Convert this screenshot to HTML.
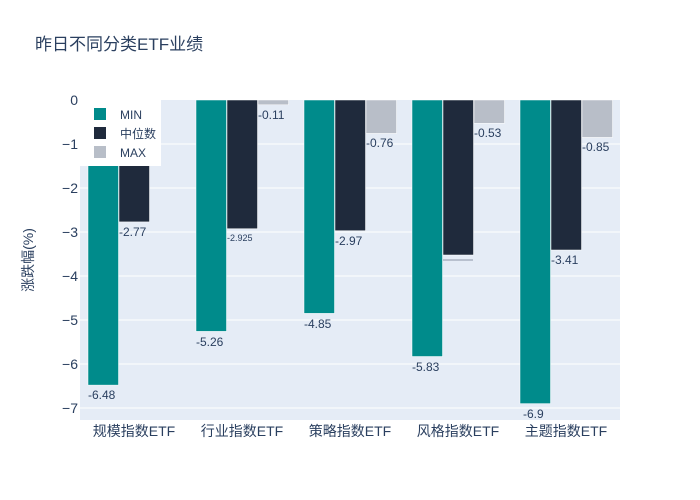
<!DOCTYPE html>
<html><head><meta charset="utf-8"><style>
body{margin:0;background:#fff}
svg{font-family:"Liberation Sans","Noto Sans CJK SC",sans-serif;display:block}
</style></head><body>
<svg width="700" height="500" xmlns="http://www.w3.org/2000/svg">
<rect width="700" height="500" fill="#fff"/>
<text x="35" y="50" font-size="17" fill="#2a3f5f">昨日不同分类ETF业绩</text>
<rect x="80" y="100" width="540" height="320" fill="#e5ecf6"/>
<g stroke="#fff" stroke-width="1">
<line x1="80" x2="620" y1="144" y2="144"/><line x1="80" x2="620" y1="188" y2="188"/>
<line x1="80" x2="620" y1="232" y2="232"/><line x1="80" x2="620" y1="276" y2="276"/>
<line x1="80" x2="620" y1="320" y2="320"/><line x1="80" x2="620" y1="364" y2="364"/>
<line x1="80" x2="620" y1="408" y2="408"/>
</g>
<g font-size="14" fill="#2a3f5f" text-anchor="end">
<text x="78" y="105">0</text><text x="78" y="149">−1</text><text x="78" y="193">−2</text>
<text x="78" y="237">−3</text><text x="78" y="281">−4</text><text x="78" y="325">−5</text>
<text x="78" y="369">−6</text><text x="78" y="413">−7</text>
</g>
<text transform="translate(33,260) rotate(-90)" font-size="14" fill="#2a3f5f" text-anchor="middle">涨跌幅(%)</text>
<g stroke-width="0.5" stroke="#fff">
<rect x="88" y="100" width="30.5" height="285.1" fill="#008b8b"/>
<rect x="119" y="100" width="30.5" height="121.9" fill="#1f2a3c"/>
<rect x="196" y="100" width="30.5" height="231.4" fill="#008b8b"/>
<rect x="227" y="100" width="30.5" height="128.7" fill="#1f2a3c"/>
<rect x="258" y="100" width="30.5" height="4.8" fill="#b8bec8"/>
<rect x="304" y="100" width="30.5" height="213.4" fill="#008b8b"/>
<rect x="335" y="100" width="30.5" height="130.7" fill="#1f2a3c"/>
<rect x="366" y="100" width="30.5" height="33.4" fill="#b8bec8"/>
<rect x="412" y="100" width="30.5" height="256.5" fill="#008b8b"/>
<rect x="443" y="100" width="30.5" height="155" fill="#1f2a3c"/>
<rect x="474" y="100" width="30.5" height="23.3" fill="#b8bec8"/>
<rect x="520" y="100" width="30.5" height="303.6" fill="#008b8b"/>
<rect x="551" y="100" width="30.5" height="150" fill="#1f2a3c"/>
<rect x="582" y="100" width="30.5" height="37.4" fill="#b8bec8"/>
</g>
<g font-size="12" fill="#2a3f5f">
<text x="88" y="399">-6.48</text><text x="119" y="236">-2.77</text>
<text x="196" y="346">-5.26</text><text x="227" y="241" font-size="9">-2.925</text><text x="258" y="119">-0.11</text>
<text x="304" y="328">-4.85</text><text x="335" y="245">-2.97</text><text x="366" y="147">-0.76</text>
<text x="412" y="371">-5.83</text><line x1="443" x2="473" y1="260" y2="260" stroke="#8a94a6" stroke-width="1"/><text x="474" y="137">-0.53</text>
<text x="523" y="418">-6.9</text><text x="551" y="264">-3.41</text><text x="582" y="151">-0.85</text>
</g>
<rect x="80" y="100" width="81" height="66" fill="#fff"/>
<rect x="94" y="108" width="12" height="12" fill="#008b8b"/>
<rect x="94" y="127" width="12" height="12" fill="#1f2a3c"/>
<rect x="94" y="146" width="12" height="12" fill="#b8bec8"/>
<g font-size="12" fill="#2a3f5f">
<text x="120" y="119">MIN</text><text x="120" y="138">中位数</text><text x="120" y="157">MAX</text>
</g>
<g font-size="14" fill="#2a3f5f" text-anchor="middle">
<text x="134" y="436">规模指数ETF</text><text x="242" y="436">行业指数ETF</text>
<text x="350" y="436">策略指数ETF</text><text x="458" y="436">风格指数ETF</text>
<text x="566" y="436">主题指数ETF</text>
</g>
</svg>
</body></html>
